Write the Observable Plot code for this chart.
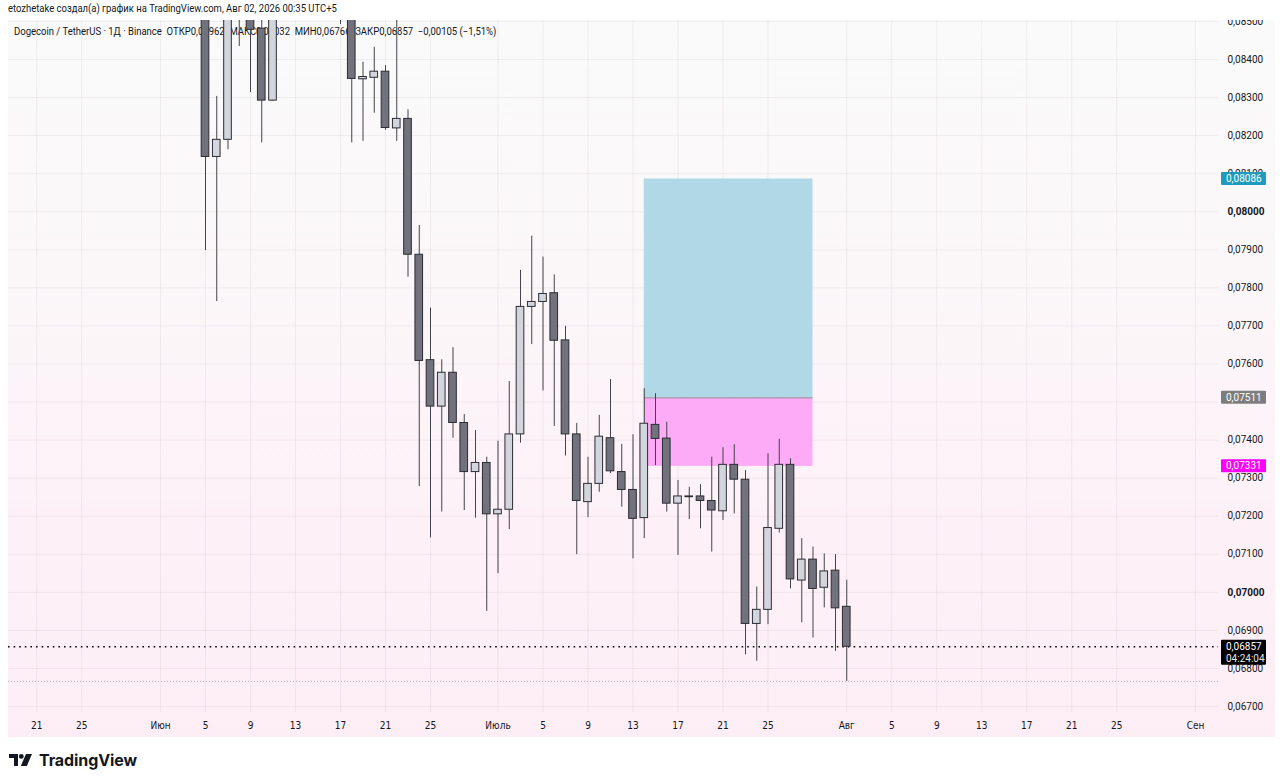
<!DOCTYPE html>
<html><head><meta charset="utf-8">
<script src="https://cdn.jsdelivr.net/npm/d3@7"></script>
<script src="https://cdn.jsdelivr.net/npm/@observablehq/plot@0.6"></script>
<style>
html,body{margin:0;padding:0;background:#fff;width:1280px;height:783px;overflow:hidden;font-family:Roboto,"Liberation Sans",sans-serif;color:#131722;}
#header{position:absolute;left:8px;top:1px;font-size:11px;line-height:16px;white-space:nowrap;transform:scaleX(0.86);transform-origin:0 0;}
#pane{position:absolute;left:8px;top:20px;width:1267px;height:717px;background:linear-gradient(to bottom,#fafafa 0%,#fbf7f9 35%,#fdf1f7 70%,#fdeef5 100%);}
#legend{position:absolute;left:14px;top:25px;font-size:10.5px;line-height:14px;white-space:nowrap;transform:scaleX(0.905);transform-origin:0 0;}
#chart{position:absolute;left:0;top:20px;}
#footer{position:absolute;left:9px;top:751px;display:flex;align-items:center;gap:7px;}
#footer span{font-family:Inter,Roboto,sans-serif;font-weight:700;font-size:16px;line-height:18px;color:#131722;letter-spacing:-0.1px;}
</style></head>
<body>
<div id="header">etozhetake создал(а) график на TradingView.com, Авг 02, 2026 00:35 UTC+5</div>
<div id="pane"></div>
<div id="legend">Dogecoin / TetherUS · 1Д · Binance&nbsp; ОТКР0,06962&nbsp; МАКС0,07032&nbsp; МИН0,06766&nbsp; ЗАКР0,06857&nbsp; −0,00105 (−1,51%)</div>
<div id="chart"></div>
<div id="footer"><svg width="23" height="12" viewBox="0 0 23 12"><path d="M0 0h9v12H5V4H0z" fill="#131722"/><circle cx="12.3" cy="2.4" r="2.4" fill="#131722"/><path d="M17 0h6l-5.2 12h-6z" fill="#131722"/></svg><span>TradingView</span></div>
<script>
// ---- data ----
const dates = ["2026-06-05","2026-06-06","2026-06-07","2026-06-08","2026-06-09","2026-06-10","2026-06-11",
  "2026-06-17","2026-06-18","2026-06-19","2026-06-20","2026-06-21","2026-06-22","2026-06-23","2026-06-24",
  "2026-06-25","2026-06-26","2026-06-27","2026-06-28","2026-06-29","2026-06-30","2026-07-01","2026-07-02",
  "2026-07-03","2026-07-04","2026-07-05","2026-07-06","2026-07-07","2026-07-08","2026-07-09","2026-07-10",
  "2026-07-11","2026-07-12","2026-07-13","2026-07-14","2026-07-15","2026-07-16","2026-07-17","2026-07-18",
  "2026-07-19","2026-07-20","2026-07-21","2026-07-22","2026-07-23","2026-07-24","2026-07-25","2026-07-26",
  "2026-07-27","2026-07-28","2026-07-29","2026-07-30","2026-07-31","2026-08-01"];
const opens = [0.08660,0.08144,0.08189,0.08640,0.08580,0.08481,0.08292,
  0.08620,0.08580,0.08348,0.08352,0.08368,0.08219,0.08244,0.07887,
  0.07610,0.07488,0.07577,0.07445,0.07316,0.07340,0.07205,0.07217,
  0.07415,0.07750,0.07763,0.07786,0.07662,0.07415,0.07237,0.07285,
  0.07405,0.07316,0.07269,0.07195,0.07440,0.07404,0.07233,0.07252,
  0.07252,0.07240,0.07213,0.07335,0.07296,0.06917,0.06954,0.07167,
  0.07335,0.07031,0.07086,0.07012,0.07057,0.06962];
const highs = [0.08720,0.08303,0.08700,0.08710,0.08620,0.08530,0.08620,
  0.08680,0.08620,0.08393,0.08432,0.08384,0.08520,0.08268,0.07964,
  0.07747,0.07611,0.07643,0.07467,0.07425,0.07355,0.07397,0.07554,
  0.07846,0.07936,0.07881,0.07834,0.07699,0.07444,0.07355,0.07465,
  0.07559,0.07389,0.07414,0.07535,0.07522,0.07447,0.07294,0.07276,
  0.07283,0.07355,0.07380,0.07388,0.07320,0.07014,0.07364,0.07402,
  0.07351,0.07141,0.07119,0.07101,0.07099,0.07032];
const lows = [0.07898,0.07764,0.08163,0.08434,0.08313,0.08181,0.08290,
  0.08492,0.08181,0.08185,0.08259,0.08214,0.08185,0.07828,0.07278,
  0.07143,0.07211,0.07405,0.07215,0.07195,0.06950,0.07049,0.07165,
  0.07392,0.07651,0.07529,0.07436,0.07358,0.07099,0.07196,0.07263,
  0.07312,0.07224,0.07088,0.07141,0.07333,0.07211,0.07097,0.07191,
  0.07167,0.07106,0.07189,0.07206,0.06836,0.06819,0.06915,0.07156,
  0.07009,0.06920,0.06880,0.06959,0.06845,0.06766];
const closes = [0.08144,0.08189,0.08640,0.08580,0.08478,0.08292,0.08580,
  0.08580,0.08349,0.08354,0.08368,0.08220,0.08244,0.07887,0.07608,
  0.07488,0.07577,0.07445,0.07316,0.07340,0.07205,0.07217,0.07415,
  0.07750,0.07763,0.07784,0.07661,0.07415,0.07240,0.07285,0.07409,
  0.07318,0.07269,0.07193,0.07443,0.07403,0.07233,0.07252,0.07250,
  0.07240,0.07215,0.07335,0.07296,0.06917,0.06954,0.07169,0.07335,
  0.07034,0.07086,0.07009,0.07055,0.06958,0.06857];

// long position tool
const posStart = "2026-07-14";
const posEnd = "2026-07-29";
const posEntry = 0.07511;
const posTarget = 0.08086;
const posStop = 0.07331;

const lastPrice = 0.06857;
const countdown = "04:24:04";

// axis ticks
const xTickDates = ["2026-05-21","2026-05-25","2026-06-01","2026-06-05","2026-06-09","2026-06-13","2026-06-17",
  "2026-06-21","2026-06-25","2026-07-01","2026-07-05","2026-07-09","2026-07-13","2026-07-17","2026-07-21",
  "2026-07-25","2026-08-01","2026-08-05","2026-08-09","2026-08-13","2026-08-17","2026-08-21","2026-08-25","2026-09-01"];
const xTickLabels = ["21","25","Июн","5","9","13","17","21","25","Июль","5","9","13","17","21","25",
  "Авг","5","9","13","17","21","25","Сен"];
const yTicks = [0.067,0.068,0.069,0.070,0.071,0.072,0.073,0.074,0.075,0.076,0.077,0.078,0.079,0.080,0.081,0.082,0.083,0.084,0.085];
const yTicksBold = [0.070, 0.080];
const yTicksHidden = [0.075]; // covered by the entry-price label

// ---- build ----
const DAY = 864e5;
const candles = dates.map((d, i) => ({date: new Date(d), open: opens[i], high: highs[i], low: lows[i], close: closes[i]}));
const labelMap = new Map(xTickDates.map((d, i) => [d, xTickLabels[i]]));
const xTicks = xTickDates.map(d => new Date(d));
const loc = d3.formatLocale({decimal: ",", thousands: " ", grouping: [3], currency: ["", ""], minus: "−"});
const fmt = loc.format(".5f");
const lowest = d3.min(lows);

const styles = {
  dark: "#72727c", light: "#d3d5dc", outline: "#2c2c34", wick: "#43434b",
  blue: "#b1d8e6", pink: "#fdabf6", entry: "#8d8d92", grid: "rgba(60,20,60,0.055)"
};
const priceLabels = [
  {value: posTarget, bg: "#1e9bbd", text: fmt(posTarget)},
  {value: posEntry, bg: "#7d7d7d", text: fmt(posEntry)},
  {value: posStop, bg: "#ff00ff", text: fmt(posStop)}
];

const labelsMark = (index, scales, values, dimensions) => {
  const g = d3.create("svg:g").attr("font-size", 10).attr("text-anchor", "start")
    .attr("font-family", "Roboto, 'Liberation Sans', sans-serif");
  const x0 = dimensions.width - dimensions.marginRight + 3;
  for (const lb of priceLabels) {
    const y = scales.y(lb.value);
    g.append("rect").attr("x", x0).attr("y", y - 6.5).attr("width", 45).attr("height", 13).attr("fill", lb.bg).attr("rx", 1);
    g.append("text").attr("x", x0 + 5).attr("y", y).attr("dy", "0.35em").attr("fill", "#fff").text(lb.text);
  }
  const y = scales.y(lastPrice);
  g.append("rect").attr("x", x0).attr("y", y - 6.5).attr("width", 45).attr("height", 25).attr("fill", "#000").attr("rx", 1);
  g.append("text").attr("x", x0 + 5).attr("y", y).attr("dy", "0.35em").attr("fill", "#fff").text(fmt(lastPrice));
  g.append("text").attr("x", x0 + 5).attr("y", y + 12).attr("dy", "0.35em").attr("fill", "#e6e6e6").text(countdown);
  return g.node();
};

const chart = Plot.plot({
  width: 1280,
  height: 717,
  marginLeft: 8,
  marginRight: 62,
  marginTop: 0,
  marginBottom: 25,
  style: {background: "transparent", fontFamily: "Roboto, 'Liberation Sans', sans-serif", fontSize: "10px", color: "#131722"},
  x: {type: "utc", domain: [new Date("2026-05-18T11:44:00Z"), new Date("2026-09-03T01:03:00Z")]},
  y: {domain: [0.066843, 0.085025]},
  marks: [
    Plot.gridY(yTicks, {stroke: styles.grid, strokeOpacity: 1}),
    Plot.gridX(xTicks, {stroke: styles.grid, strokeOpacity: 1}),
    Plot.axisY(yTicks.filter(t => !yTicksBold.includes(t) && !yTicksHidden.includes(t)), {anchor: "right", tickSize: 0, tickPadding: 9, tickFormat: fmt, fill: "#131722", label: null}),
    Plot.axisY(yTicksBold, {anchor: "right", tickSize: 0, tickPadding: 9, tickFormat: fmt, fill: "#131722", fontWeight: "bold", label: null}),
    Plot.axisX(xTicks, {anchor: "bottom", tickSize: 0, tickPadding: 9, tickFormat: d => labelMap.get(d.toISOString().slice(0, 10)),
      fontFamily: "'Liberation Sans Narrow', 'DejaVu Sans Condensed', Roboto, sans-serif", fontSize: 10, fill: "#131722", label: null}),
    Plot.rect([{x1: new Date(posStart), x2: new Date(posEnd), y1: posEntry, y2: posTarget}], {x1: "x1", x2: "x2", y1: "y1", y2: "y2", fill: styles.blue}),
    Plot.rect([{x1: new Date(posStart), x2: new Date(posEnd), y1: posStop, y2: posEntry}], {x1: "x1", x2: "x2", y1: "y1", y2: "y2", fill: styles.pink}),
    Plot.ruleY([posEntry], {x1: new Date(posStart), x2: new Date(posEnd), stroke: styles.entry, strokeWidth: 1}),
    Plot.ruleY([lowest], {stroke: "#9c9ca4", strokeWidth: 0.8, strokeDasharray: "1,2"}),
    Plot.ruleY([lastPrice], {stroke: "#000", strokeWidth: 1.6, strokeDasharray: "1.6,4"}),
    Plot.ruleX(candles, {x: "date", y1: "low", y2: "high", stroke: styles.wick, strokeWidth: 1, clip: true}),
    Plot.rect(candles, {
      x1: d => new Date(+d.date - DAY / 2), x2: d => new Date(+d.date + DAY / 2),
      y1: "open", y2: "close", insetLeft: 1.8, insetRight: 1.8,
      fill: d => d.close < d.open ? styles.dark : styles.light,
      stroke: styles.outline, strokeWidth: 1, clip: true
    }),
    labelsMark
  ]
});
document.getElementById("chart").appendChild(chart);
</script>
</body></html>
